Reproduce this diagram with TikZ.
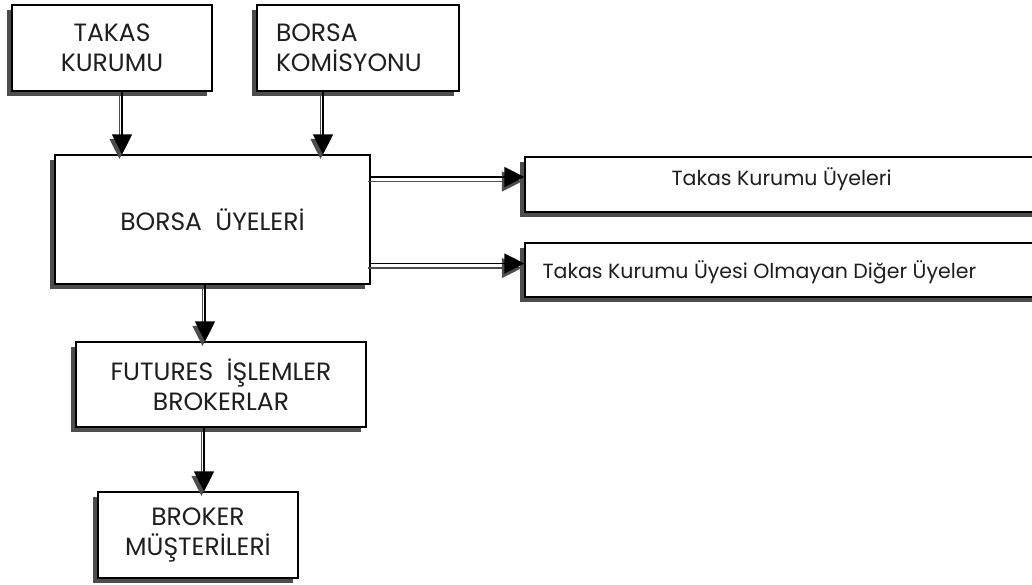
\documentclass[tikz,border=0pt]{standalone}
\usepackage{fontspec}
\setmainfont{Poppins}
\usetikzlibrary{arrows.meta,shadows}
\definecolor{shadowgray}{HTML}{4D4D4D}
\definecolor{inkdark}{HTML}{1E1E1E}
\tikzset{
  box/.style={draw=black, line width=1.2pt, fill=white, inner sep=0pt,
    align=center, text=inkdark, font=\fontsize{25}{30}\selectfont,
    drop shadow={shadow xshift=-5pt, shadow yshift=-5pt, fill=shadowgray, opacity=1}},
  wide/.style={box},
  label/.style={text=inkdark, inner sep=0pt, anchor=base west, font=\fontsize{20.5}{24}\selectfont},
  link/.style={line width=1.3pt, -{Triangle[length=20pt,width=20pt]}},
}
% arrow with its own offset grey shadow
\newcommand\shadowlink[2]{%
  \begin{scope}[transform canvas={xshift=-2.5pt,yshift=-4.5pt}]
    \draw[link, shadowgray] #1 -- #2;
  \end{scope}
  \draw[link, black] #1 -- #2;}
\begin{document}
\begin{tikzpicture}[x=1pt,y=-1pt]
\useasboundingbox (0,0) rectangle (1032,585);

\node[box, minimum width=200pt, minimum height=86pt] (takas) at (112,48) {TAKAS\\KURUMU};
\node[box, minimum width=202pt, minimum height=86pt, text width=164pt, inner xsep=19pt, align=left] (komisyon) at (358,48) {BORSA\\KOM\.ISYONU};
\node[box, minimum width=315pt, minimum height=129pt] (borsa) at (212.5,219.5) {BORSA\ \ \"UYELER\.I};
\node[wide, minimum width=524pt, minimum height=55pt] (uye) at (787,184.5) {};
\node[wide, minimum width=524pt, minimum height=54pt] (diger) at (787,270) {};
\node[label] (uyetext) at ([xshift=147pt,yshift=-1.5pt]uye.west) {Takas Kurumu Üyeleri};
\node[label] (digertext) at ([xshift=18pt,yshift=-8pt]diger.west) {Takas Kurumu Üyesi Olmayan Diğer Üyeler};
\node[box, minimum width=290pt, minimum height=85pt] (futures) at (221,384.5) {FUTURES\ \ \.I\c{S}LEMLER\\BROKERLAR};
\node[box, minimum width=200pt, minimum height=86pt] (broker) at (198,535) {BROKER\\M\"U\c{S}TER\.ILER\.I};

\shadowlink{([xshift=10pt]takas.south)}{([xshift=10pt]takas.south |- borsa.north)}
\shadowlink{([xshift=-35pt]komisyon.south)}{([xshift=-35pt]komisyon.south |- borsa.north)}
\shadowlink{([yshift=42.5pt]borsa.east)}{([yshift=42.5pt]borsa.east -| uye.west)}
\shadowlink{([yshift=-44pt]borsa.east)}{([yshift=-44pt]borsa.east -| diger.west)}
\shadowlink{([xshift=-7.5pt]borsa.south)}{([xshift=-7.5pt]borsa.south |- futures.north)}
\shadowlink{([xshift=-17pt]futures.south)}{([xshift=-17pt]futures.south |- broker.north)}
\end{tikzpicture}
\end{document}
